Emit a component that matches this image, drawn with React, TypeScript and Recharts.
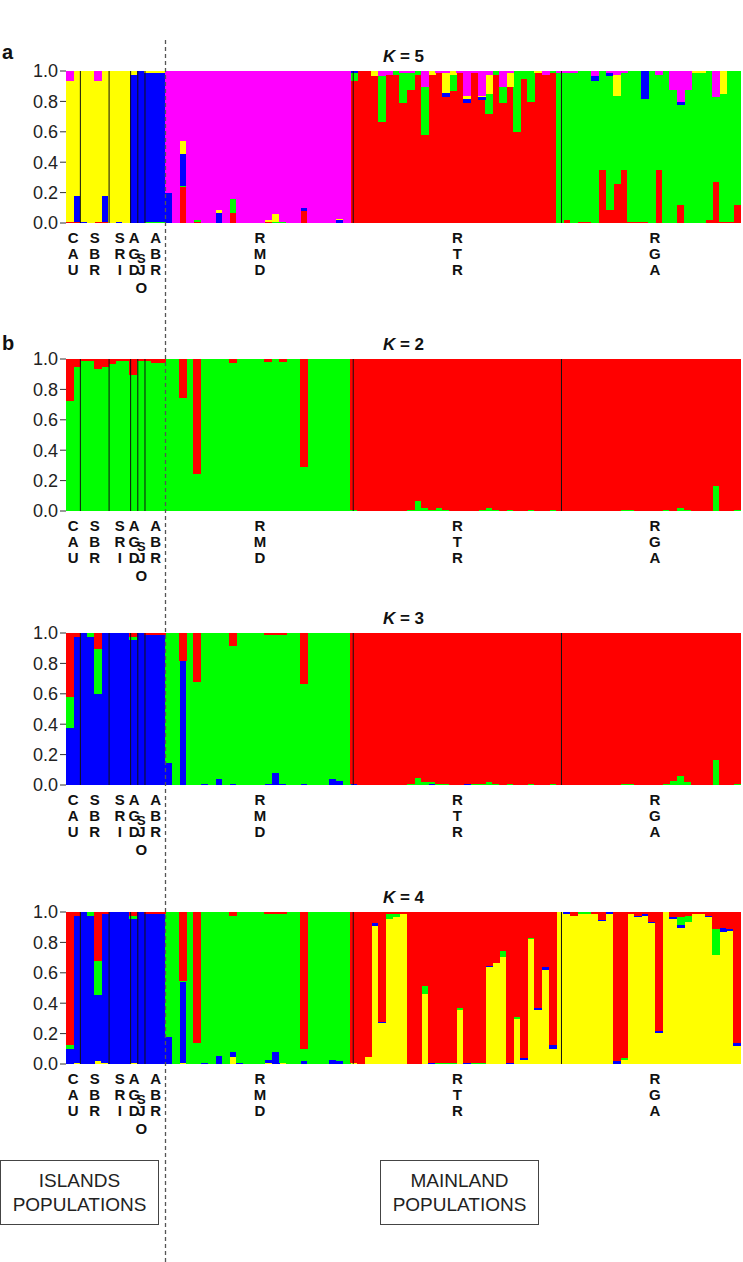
import React from "react";
import { BarChart, Bar, XAxis, YAxis, ReferenceLine, ReferenceArea } from "recharts";

const FONT = '"Liberation Sans", Arial, Helvetica, sans-serif';

// populations, in plot order (islands first, then mainland)
const POPS = ["CAU", "SBR", "SRI", "AGD", "SJO", "ABR", "RMD", "RTR", "RGA"];
const POP_SIZES = [2, 4, 3, 1, 1, 3, 26, 29, 26];

const RED = "#ff0000";
const GREEN = "#00ff00";
const BLUE = "#0000ff";
const YELLOW = "#ffff00";
const PINK = "#ff00ff";

// ---- K = 5 ----  (islands | RMD | RTR | RGA)
const k5Red = [
  0.01, 0.01, 0, 0, 0.01, 0.01, 0, 0, 0, 0, 0, 0, 0, 0,
  0, 0, 0.24, 0, 0.01, 0, 0, 0, 0, 0.07, 0, 0, 0, 0, 0.01, 0, 0, 0, 0, 0.08, 0, 0, 0, 0, 0, 0,
  0.935, 1, 1, 0.97, 0.67, 0.98, 0.98, 0.79, 0.88, 0.98, 0.58, 0.98, 0.99, 0.83, 0.87, 0.99, 0.79, 0.99, 0.81, 0.72, 0.98, 0.79, 0.9, 0.6, 0.95, 0.8, 0.99, 0.98, 0.99,
  0, 0.02, 0, 0.01, 0.01, 0, 0.35, 0.09, 0.26, 0.35, 0.01, 0.01, 0.01, 0, 0.35, 0, 0, 0.12, 0, 0, 0, 0.02, 0.27, 0.01, 0.01, 0.12,
];
const k5Green = [
  0, 0, 0, 0, 0, 0, 0, 0, 0, 0, 0, 0.01, 0.01, 0.01,
  0, 0, 0.01, 0, 0.01, 0, 0, 0, 0, 0.09, 0, 0, 0, 0, 0, 0.01, 0.01, 0, 0, 0, 0, 0, 0, 0, 0, 0,
  0.055, 0, 0, 0, 0.3, 0, 0.02, 0.2, 0.11, 0.02, 0.32, 0, 0, 0, 0.11, 0, 0, 0, 0, 0.13, 0.02, 0.11, 0, 0.4, 0.05, 0.2, 0, 0, 0.01,
  0.99, 0.97, 0.99, 0.99, 0.99, 0.94, 0.65, 0.88, 0.58, 0.64, 0.99, 0.99, 0.81, 1, 0.63, 1, 0.88, 0.66, 0.88, 0.99, 0.99, 0.98, 0.56, 0.84, 0.99, 0.88,
];
const k5Blue = [
  0, 0.17, 0.01, 0, 0, 0.17, 0, 0.01, 0, 0.98, 1, 0.98, 0.98, 0.98,
  0.2, 0, 0.21, 0, 0, 0, 0, 0.07, 0, 0, 0, 0, 0, 0, 0, 0, 0, 0, 0, 0.02, 0, 0, 0, 0, 0.02, 0,
  0.01, 0, 0, 0, 0, 0, 0, 0, 0, 0, 0, 0, 0, 0.03, 0, 0, 0.03, 0, 0.02, 0, 0, 0, 0, 0, 0, 0, 0, 0, 0,
  0, 0, 0, 0, 0, 0.03, 0, 0.02, 0, 0, 0, 0, 0.18, 0, 0, 0, 0, 0.02, 0, 0, 0, 0, 0, 0, 0, 0,
];
const k5Yellow = [
  0.93, 0.82, 0.99, 1, 0.93, 0.82, 1, 0.99, 1, 0.02, 0, 0.01, 0.01, 0.01,
  0, 0, 0.08, 0, 0, 0, 0, 0.02, 0, 0, 0, 0, 0, 0, 0.01, 0.05, 0, 0, 0, 0, 0, 0, 0, 0, 0.01, 0,
  0, 0, 0, 0.03, 0, 0, 0, 0, 0, 0, 0, 0.02, 0, 0.13, 0.02, 0, 0.02, 0, 0.01, 0.13, 0, 0, 0.09, 0, 0, 0, 0.01, 0, 0,
  0, 0, 0, 0, 0, 0, 0, 0, 0.14, 0, 0, 0, 0, 0, 0, 0, 0, 0, 0, 0.01, 0.01, 0, 0, 0.15, 0, 0,
];
const k5Pink = [
  0.06, 0, 0, 0, 0.06, 0, 0, 0, 0, 0, 0, 0, 0, 0,
  0.8, 1, 0.46, 1, 0.98, 1, 1, 0.91, 1, 0.84, 1, 1, 1, 1, 0.98, 0.94, 0.99, 1, 1, 0.9, 1, 1, 1, 1, 0.97, 1,
  0, 0, 0, 0, 0.03, 0.02, 0, 0.01, 0.01, 0, 0.1, 0, 0.01, 0.01, 0, 0.01, 0.16, 0.01, 0.16, 0.02, 0, 0.1, 0.01, 0, 0, 0, 0, 0.02, 0,
  0.01, 0.01, 0.01, 0, 0, 0.03, 0, 0.01, 0.02, 0.01, 0, 0, 0, 0, 0.02, 0, 0.12, 0.2, 0.12, 0, 0, 0, 0.17, 0, 0, 0,
];

// ---- K = 2 ----
const k2Green = [
  0.73, 0.95, 0.99, 0.99, 0.94, 0.95, 0.97, 0.99, 0.99, 0.9, 0.99, 0.99, 0.98, 0.98,
  1, 1, 0.75, 1, 0.25, 1, 1, 1, 1, 0.98, 1, 1, 1, 1, 0.985, 1, 0.985, 1, 1, 0.29, 1, 1, 1, 1, 1, 1,
  0.01, 0, 0, 0, 0, 0, 0, 0, 0.01, 0.07, 0.02, 0.01, 0.02, 0.01, 0, 0, 0, 0, 0.01, 0.02, 0.01, 0, 0.01, 0, 0, 0.01, 0, 0, 0.01,
  0, 0, 0, 0, 0, 0, 0, 0, 0, 0.01, 0.01, 0, 0, 0, 0, 0.01, 0, 0.02, 0.01, 0, 0, 0, 0.17, 0, 0, 0.01,
];
const k2Red = [
  0.27, 0.05, 0.01, 0.01, 0.06, 0.05, 0.03, 0.01, 0.01, 0.1, 0.01, 0.01, 0.02, 0.02,
  0, 0, 0.25, 0, 0.75, 0, 0, 0, 0, 0.02, 0, 0, 0, 0, 0.015, 0, 0.015, 0, 0, 0.71, 0, 0, 0, 0, 0, 0,
  0.99, 1, 1, 1, 1, 1, 1, 1, 0.99, 0.93, 0.98, 0.99, 0.98, 0.99, 1, 1, 1, 1, 0.99, 0.98, 0.99, 1, 0.99, 1, 1, 0.99, 1, 1, 0.99,
  1, 1, 1, 1, 1, 1, 1, 1, 1, 0.99, 0.99, 1, 1, 1, 1, 0.99, 1, 0.98, 0.99, 1, 1, 1, 0.83, 1, 1, 0.99,
];

// ---- K = 3 ----
const k3Blue = [
  0.38, 0.98, 1, 0.98, 0.6, 1, 1, 1, 1, 0.96, 1, 0.99, 0.99, 0.99,
  0.15, 0, 0.82, 0, 0, 0.01, 0, 0.04, 0, 0.01, 0, 0, 0, 0, 0.01, 0.08, 0.01, 0, 0, 0.01, 0, 0, 0, 0.04, 0.03, 0,
  0.01, 0, 0, 0, 0, 0, 0, 0, 0, 0, 0, 0.01, 0, 0, 0, 0, 0.01, 0, 0, 0, 0, 0, 0, 0, 0, 0, 0, 0, 0,
  0, 0, 0, 0, 0, 0, 0, 0, 0, 0, 0, 0, 0, 0, 0, 0, 0, 0, 0, 0, 0, 0, 0, 0, 0, 0,
];
const k3Green = [
  0.2, 0, 0, 0.02, 0.3, 0, 0, 0, 0, 0.02, 0, 0, 0, 0,
  0.85, 1, 0, 1, 0.68, 0.99, 1, 0.96, 1, 0.91, 1, 1, 1, 1, 0.98, 0.91, 0.98, 1, 1, 0.66, 1, 1, 1, 0.96, 0.97, 1,
  0, 0, 0, 0, 0, 0, 0, 0, 0.01, 0.05, 0.02, 0.01, 0.01, 0.01, 0, 0, 0, 0.01, 0.01, 0.02, 0.01, 0, 0.01, 0, 0, 0.01, 0, 0, 0.01,
  0, 0, 0, 0, 0, 0, 0, 0, 0, 0.01, 0.01, 0, 0, 0, 0, 0.01, 0.03, 0.06, 0.02, 0, 0, 0, 0.17, 0, 0, 0.01,
];
const k3Red = [
  0.42, 0.02, 0, 0, 0.1, 0, 0, 0, 0, 0.02, 0, 0.01, 0.01, 0.01,
  0, 0, 0.18, 0, 0.32, 0, 0, 0, 0, 0.08, 0, 0, 0, 0, 0.01, 0.01, 0.01, 0, 0, 0.33, 0, 0, 0, 0, 0, 0,
  0.99, 1, 1, 1, 1, 1, 1, 1, 0.99, 0.95, 0.98, 0.98, 0.99, 0.99, 1, 1, 0.99, 0.99, 0.99, 0.98, 0.99, 1, 0.99, 1, 1, 0.99, 1, 1, 0.99,
  1, 1, 1, 1, 1, 1, 1, 1, 1, 0.99, 0.99, 1, 1, 1, 1, 0.99, 0.97, 0.94, 0.98, 1, 1, 1, 0.83, 1, 1, 0.99,
];

// ---- K = 4 ----
const k4Yellow = [
  0, 0.01, 0, 0, 0.02, 0.01, 0, 0, 0, 0.01, 0, 0, 0, 0,
  0, 0, 0.01, 0, 0, 0, 0, 0, 0, 0.05, 0, 0, 0, 0, 0.01, 0, 0.01, 0, 0, 0, 0, 0, 0, 0, 0, 0,
  0.01, 0, 0.05, 0.91, 0.27, 0.96, 0.97, 0.99, 0, 0, 0.465, 0, 0, 0, 0, 0.36, 0, 0, 0, 0.64, 0.67, 0.71, 0, 0.3, 0.03, 0.825, 0.36, 0.62, 0.1,
  1, 0.99, 0.98, 0.99, 0.99, 0.99, 0.945, 0.99, 0, 0.03, 0.99, 0.97, 0.98, 0.93, 0.21, 1, 0.96, 0.9, 0.94, 0.99, 0.99, 0.97, 0.72, 0.87, 0.88, 0.12,
];
const k4Blue = [
  0.1, 0.97, 1, 0.98, 0.44, 0.98, 1, 1, 1, 0.95, 1, 0.99, 0.99, 0.99,
  0.18, 0, 0.53, 0, 0, 0.01, 0, 0.055, 0, 0.03, 0.01, 0, 0, 0, 0.02, 0.08, 0, 0, 0, 0.02, 0, 0, 0, 0.03, 0.025, 0,
  0, 0, 0, 0.02, 0.01, 0, 0, 0, 0, 0, 0, 0.01, 0, 0, 0, 0, 0.01, 0, 0, 0.01, 0, 0, 0.01, 0, 0.01, 0, 0.01, 0.02, 0.03,
  0, 0.01, 0, 0, 0, 0, 0.005, 0.01, 0.02, 0, 0, 0.01, 0.01, 0.01, 0.01, 0, 0.01, 0.02, 0, 0, 0, 0.01, 0, 0.03, 0.01, 0.02,
];
const k4Green = [
  0.03, 0, 0, 0.02, 0.22, 0, 0, 0, 0, 0.02, 0, 0, 0, 0,
  0.82, 1, 0.01, 1, 0.14, 0.99, 1, 0.945, 1, 0.9, 0.99, 1, 1, 1, 0.96, 0.91, 0.98, 1, 1, 0.08, 1, 1, 1, 0.97, 0.975, 1,
  0, 0, 0, 0, 0, 0.03, 0.02, 0, 0, 0, 0.05, 0, 0.01, 0.01, 0.01, 0.01, 0, 0.01, 0.01, 0, 0, 0.04, 0, 0.01, 0, 0.01, 0, 0, 0,
  0, 0, 0, 0.01, 0.01, 0, 0, 0, 0, 0.01, 0, 0, 0, 0, 0, 0, 0, 0.05, 0.04, 0, 0, 0, 0.17, 0, 0, 0,
];
const k4Red = [
  0.87, 0.02, 0, 0, 0.32, 0.01, 0, 0, 0, 0.02, 0, 0.01, 0.01, 0.01,
  0, 0, 0.45, 0, 0.86, 0, 0, 0, 0, 0.02, 0, 0, 0, 0, 0.01, 0.01, 0.01, 0, 0, 0.9, 0, 0, 0, 0, 0, 0,
  0.99, 1, 0.95, 0.07, 0.72, 0.01, 0.01, 0.01, 1, 1, 0.485, 0.99, 0.99, 0.99, 0.99, 0.63, 0.99, 0.99, 0.99, 0.35, 0.33, 0.25, 0.99, 0.69, 0.96, 0.165, 0.63, 0.36, 0.87,
  0, 0, 0.02, 0, 0, 0.01, 0.05, 0, 0.98, 0.96, 0.01, 0.02, 0.01, 0.06, 0.78, 0, 0.03, 0.03, 0.02, 0.01, 0.01, 0.02, 0.11, 0.1, 0.11, 0.86,
];

const N = POP_SIZES.reduce((a, b) => a + b, 0);
const starts: number[] = [];
POP_SIZES.forEach((n, i) => starts.push(i === 0 ? 0 : starts[i - 1] + POP_SIZES[i - 1]));
const centers = starts.map((s, i) => s + POP_SIZES[i] / 2);
const islandEnd = starts[6];
const boundaries = starts.slice(1).filter((s) => s !== islandEnd);
const ids = Array.from({ length: N }, (_, i) => `ind${i + 1}`);

type Series = { key: string; color: string; values: number[] };

function makeRows(series: Series[]) {
  return ids.map((id, i) => {
    const row: any = { id };
    series.forEach((s) => (row[s.key] = s.values[i]));
    return row;
  });
}

function PopTick(props: any) {
  const { x, y, payload } = props;
  const name = POPS[centers.indexOf(payload.value)];
  if (!name) return null;
  const sjo = name === "SJO";
  const rowY = sjo ? [40, 52, 70] : [20, 36, 52];
  return (
    <g>
      {name.split("").map((ch, k) => (
        <text
          key={k}
          x={x}
          y={y + rowY[k]}
          textAnchor="middle"
          fontSize={sjo && k === 0 ? 13 : 15}
          fontWeight="bold"
          fill="#111"
          fontFamily={FONT}
        >
          {ch}
        </text>
      ))}
    </g>
  );
}

function StructurePanel({ plotTop, series }: { plotTop: number; series: Series[] }) {
  const data = makeRows(series);
  return (
    <div style={{ position: "absolute", left: 0, top: plotTop - 30 }}>
      <BarChart width={743} height={262} data={data} margin={{ top: 30, right: 2, bottom: 0, left: 6 }} barCategoryGap={0} barGap={0}>
        <XAxis
          xAxisId="pop"
          type="number"
          domain={[0, N]}
          allowDataOverflow
          ticks={centers}
          interval={0}
          tick={<PopTick />}
          tickLine={false}
          axisLine={false}
          tickSize={0}
          tickMargin={0}
          height={80}
        />
        <XAxis dataKey="id" hide height={0} />
        <YAxis
          type="number"
          domain={[0, 1]}
          allowDataOverflow
          ticks={[0, 0.2, 0.4, 0.6, 0.8, 1]}
          tickFormatter={(v: number) => v.toFixed(1)}
          width={60}
          axisLine={false}
          tickSize={6}
          tickMargin={2}
          tick={{ fontSize: 18, fill: "#222", fontFamily: FONT }}
          tickLine={{ stroke: "#333" }}
        />
        {series.map((s) => (
          <Bar
            key={s.key}
            dataKey={s.key}
            stackId="q"
            fill={s.color}
            stroke={s.color}
            strokeWidth={1}
            isAnimationActive={false}
          />
        ))}
        {boundaries.map((b) => (
          <ReferenceLine key={b} xAxisId="pop" x={b} stroke="#111" strokeWidth={1} />
        ))}
        <ReferenceArea xAxisId="pop" x1={0} x2={N} y1={0} y2={1} fill="none" stroke="#444" strokeWidth={1} />
      </BarChart>
    </div>
  );
}

const panels = [
  {
    label: "5",
    plotTop: 70.7,
    series: [
      { key: "red", color: RED, values: k5Red },
      { key: "green", color: GREEN, values: k5Green },
      { key: "blue", color: BLUE, values: k5Blue },
      { key: "yellow", color: YELLOW, values: k5Yellow },
      { key: "pink", color: PINK, values: k5Pink },
    ],
  },
  {
    label: "2",
    plotTop: 359.3,
    series: [
      { key: "green", color: GREEN, values: k2Green },
      { key: "red", color: RED, values: k2Red },
    ],
  },
  {
    label: "3",
    plotTop: 633.3,
    series: [
      { key: "blue", color: BLUE, values: k3Blue },
      { key: "green", color: GREEN, values: k3Green },
      { key: "red", color: RED, values: k3Red },
    ],
  },
  {
    label: "4",
    plotTop: 912.3,
    series: [
      { key: "yellow", color: YELLOW, values: k4Yellow },
      { key: "blue", color: BLUE, values: k4Blue },
      { key: "green", color: GREEN, values: k4Green },
      { key: "red", color: RED, values: k4Red },
    ],
  },
];

const boxStyle: React.CSSProperties = {
  position: "absolute",
  top: 1160,
  width: 159,
  height: 65,
  border: "1px solid #444",
  boxSizing: "border-box",
  display: "flex",
  alignItems: "center",
  justifyContent: "center",
  textAlign: "center",
  fontFamily: FONT,
  fontSize: 19,
  lineHeight: "24px",
  color: "#222",
  background: "#fff",
};

export default function App() {
  return (
    <div style={{ position: "relative", width: 743, height: 1262, background: "#fff", overflow: "hidden" }}>
      <style>{`body{margin:0} .recharts-bar-rectangle path{shape-rendering:crispEdges}`}</style>
      {panels.map((p) => (
        <StructurePanel key={p.label} plotTop={p.plotTop} series={p.series} />
      ))}
      <svg width={743} height={1262} style={{ position: "absolute", left: 0, top: 0, pointerEvents: "none" }}>
        <line x1={165.5} y1={40} x2={165.5} y2={1262} stroke="#555" strokeWidth={1.3} strokeDasharray="4 3" />
        <text x={2} y={59} fontFamily={FONT} fontSize={20} fontWeight="bold" fill="#111">a</text>
        <text x={2} y={350} fontFamily={FONT} fontSize={20} fontWeight="bold" fill="#111">b</text>
        {panels.map((p) => (
          <text key={p.label} x={403.5} y={p.plotTop - 9} textAnchor="middle" fontFamily={FONT} fontSize={17} fontWeight="bold" fill="#111">
            <tspan fontStyle="italic">K</tspan> = {p.label}
          </text>
        ))}
      </svg>
      <div style={{ ...boxStyle, left: 0 }}>
        ISLANDS<br />POPULATIONS
      </div>
      <div style={{ ...boxStyle, left: 380 }}>
        MAINLAND<br />POPULATIONS
      </div>
    </div>
  );
}
